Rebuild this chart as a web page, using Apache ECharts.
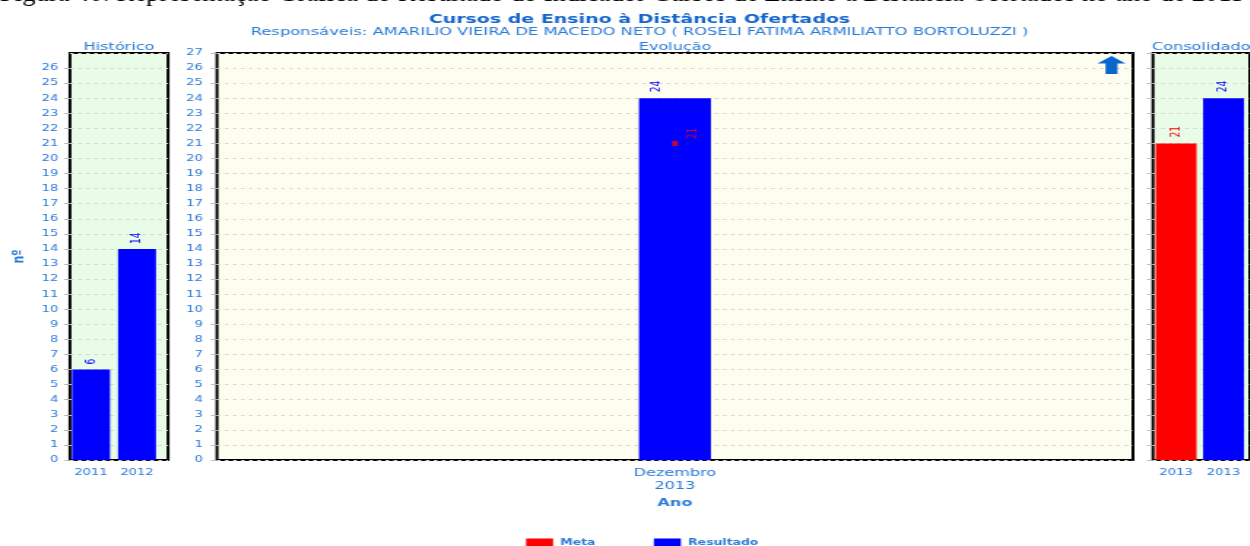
<!DOCTYPE html>
<html>
<head>
<meta charset="utf-8">
<script src="https://cdn.jsdelivr.net/npm/echarts@6/dist/echarts.min.js"></script>
<style>
  html, body { margin: 0; padding: 0; background: #ffffff; overflow: hidden; }
  #chart { height: 546px; transform-origin: 0 0; }
</style>
</head>
<body>
<div id="chart"></div>
<script>
// ---- data -------------------------------------------------------------
const histYears = ['2011', '2012'];
const histResult = [6, 14];

const evolPeriods = ['Dezembro\n2013'];
const evolResult = [24];
const evolMeta = [21];

const consYears = ['2013', '2013'];
const consMeta = [21, '-'];
const consResult = ['-', 24];

const yMax = 27;
const yStep = 1;

const CAPTION = 'Figura 40: Representação Gráfica do Resultado do Indicador Cursos de Ensino à Distância Ofertados no ano de 2013';

// ---- look -------------------------------------------------------------
// The figure is laid out on a narrower canvas and widened horizontally.
const STRETCH = 1.46;
const W = 1250 / STRETCH;
const H = 546;

const FONT = 'DejaVu Sans';
const TITLE_BLUE = '#1466cc';
const TEXT_BLUE = '#2a7bd8';
const META_RED = '#ff0000';
const RESULT_BLUE = '#0000ff';
const PANEL_GREEN = '#e8fce8';
const PANEL_IVORY = '#fefef0';
const GRID_DASH = '#d4d4d4';

const TOP = 53;
const BOTTOM = H - 460;

const histFrame = { left: 47.9, width: 67.2 };
const histBars = { left: 46.6, width: 63 };
const evolFrame = { left: 148.6, width: 627.4 };
const consFrame = { left: 789.7, width: 72 };
const consBars = { left: 789.3, width: 65 };

const el = document.getElementById('chart');
el.style.width = W + 'px';
el.style.transform = 'scaleX(' + STRETCH + ')';

const chart = echarts.init(el, null, { renderer: 'canvas' });

function frame(box, bg) {
  return {
    left: box.left, width: box.width, top: TOP, bottom: BOTTOM,
    show: true, backgroundColor: bg, borderColor: '#000000', borderWidth: 2
  };
}
function plain(box) {
  return { left: box.left, width: box.width, top: TOP, bottom: BOTTOM };
}

const dashed = { show: true, lineStyle: { color: GRID_DASH, type: [2.5, 3], width: 1 } };
const tick = { show: true, length: 4, lineStyle: { color: '#bbbbbb' } };
const yBase = { type: 'value', min: 0, max: yMax, interval: yStep };

// Value labels are turned 90° anticlockwise; their offset is given in the
// label's own (turned) frame: [along the text, across it].
function valueLabel(color, extra) {
  return Object.assign({
    show: true, position: 'top', distance: 6, rotate: 90,
    align: 'left', verticalAlign: 'middle',
    color: color, fontFamily: FONT, fontSize: 9
  }, extra || {});
}

const catLabel = { color: TEXT_BLUE, fontFamily: FONT, fontSize: 9, margin: 8 };

// up arrow in the corner of the evolution panel
const ax = evolFrame.left + evolFrame.width - 14.7;
const arrowPts = [
  [ax, 56], [ax + 9.6, 63.5], [ax + 4.1, 63.5], [ax + 4.1, 74],
  [ax - 4.1, 74], [ax - 4.1, 63.5], [ax - 9.6, 63.5]
];

const option = {
  animation: false,
  backgroundColor: '#ffffff',
  textStyle: { fontFamily: FONT },
  title: [
    {
      text: 'Cursos de Ensino à Distância Ofertados',
      subtext: 'Responsáveis: AMARILIO VIEIRA DE MACEDO NETO ( ROSELI FATIMA ARMILIATTO BORTOLUZZI )',
      left: 438, top: 13, textAlign: 'center', padding: 0, itemGap: 1,
      textStyle: { fontFamily: FONT, fontSize: 13, fontWeight: 'bold', color: TITLE_BLUE },
      subtextStyle: { fontFamily: FONT, fontSize: 11.2, color: TEXT_BLUE }
    },
    {
      text: 'Histórico', left: histFrame.left + histFrame.width / 2, top: 42,
      textAlign: 'center', padding: 0,
      textStyle: { fontFamily: FONT, fontSize: 11, fontWeight: 'normal', color: TEXT_BLUE }
    },
    {
      text: 'Evolução', left: evolFrame.left + evolFrame.width / 2, top: 42,
      textAlign: 'center', padding: 0,
      textStyle: { fontFamily: FONT, fontSize: 11, fontWeight: 'normal', color: TEXT_BLUE }
    },
    {
      text: 'Consolidado', left: consFrame.left - 0.7, top: 42,
      textAlign: 'left', padding: 0,
      textStyle: { fontFamily: FONT, fontSize: 11, fontWeight: 'normal', color: TEXT_BLUE }
    }
  ],
  legend: {
    data: ['Meta', 'Resultado'],
    left: 360.3, top: 538, padding: 0,
    icon: 'rect', itemWidth: 18.5, itemHeight: 8, itemGap: 40,
    selectedMode: false,
    textStyle: { fontFamily: FONT, fontSize: 8.5, fontWeight: 'bold', color: TEXT_BLUE }
  },
  grid: [
    frame(histFrame, PANEL_GREEN),
    plain(histBars),
    frame(evolFrame, PANEL_IVORY),
    frame(consFrame, PANEL_GREEN),
    plain(consBars)
  ],
  xAxis: [
    { gridIndex: 0, type: 'category', data: histYears, show: false },
    {
      gridIndex: 1, type: 'category', data: histYears,
      axisLine: { show: false }, axisTick: { show: false }, axisLabel: catLabel
    },
    {
      gridIndex: 2, type: 'category', data: evolPeriods,
      axisLine: { show: false }, axisTick: { show: false },
      axisLabel: { color: TEXT_BLUE, fontFamily: FONT, fontSize: 11, lineHeight: 13, margin: 7 },
      name: 'Ano', nameLocation: 'middle', nameGap: 32,
      nameTextStyle: { color: TEXT_BLUE, fontFamily: FONT, fontSize: 11, fontWeight: 'bold' }
    },
    { gridIndex: 3, type: 'category', data: consYears, show: false },
    {
      gridIndex: 4, type: 'category', data: consYears,
      axisLine: { show: false }, axisTick: { show: false }, axisLabel: catLabel
    }
  ],
  yAxis: [
    Object.assign({}, yBase, {
      gridIndex: 0,
      axisLine: { show: false }, axisTick: tick, splitLine: dashed,
      axisLabel: { showMaxLabel: false, color: TEXT_BLUE, fontFamily: FONT, fontSize: 9, margin: 8 },
      name: 'nº', nameLocation: 'middle', nameGap: 29,
      nameTextStyle: { color: TEXT_BLUE, fontFamily: FONT, fontSize: 11, fontWeight: 'bold' }
    }),
    Object.assign({}, yBase, { gridIndex: 1, show: false }),
    Object.assign({}, yBase, {
      gridIndex: 2,
      axisLine: { show: false }, axisTick: tick, splitLine: dashed,
      axisLabel: { color: TEXT_BLUE, fontFamily: FONT, fontSize: 9, margin: 9.6 }
    }),
    Object.assign({}, yBase, {
      gridIndex: 3,
      axisLine: { show: false }, axisTick: tick, splitLine: dashed,
      axisLabel: { show: false }
    }),
    Object.assign({}, yBase, { gridIndex: 4, show: false })
  ],
  series: [
    {
      name: 'Meta', type: 'bar', xAxisIndex: 4, yAxisIndex: 4,
      data: consMeta, barWidth: 28, barGap: '-100%',
      itemStyle: { color: META_RED }, label: valueLabel(META_RED)
    },
    {
      name: 'Resultado', type: 'bar', xAxisIndex: 4, yAxisIndex: 4,
      data: consResult, barWidth: 28, barGap: '-100%',
      itemStyle: { color: RESULT_BLUE }, label: valueLabel(RESULT_BLUE)
    },
    {
      name: 'Resultado', type: 'bar', xAxisIndex: 1, yAxisIndex: 1,
      data: histResult, barWidth: 26,
      itemStyle: { color: RESULT_BLUE }, label: valueLabel(RESULT_BLUE, { distance: 5 })
    },
    {
      name: 'Resultado', type: 'bar', xAxisIndex: 2, yAxisIndex: 2,
      data: evolResult, barWidth: 49.3,
      itemStyle: { color: RESULT_BLUE }, label: valueLabel(RESULT_BLUE, { offset: [0, -12.7] })
    },
    {
      name: 'Meta', type: 'scatter', xAxisIndex: 2, yAxisIndex: 2,
      data: evolMeta, symbol: 'rect', symbolSize: [4, 5],
      itemStyle: { color: META_RED },
      label: {
        show: true, position: 'inside', rotate: 90, align: 'center', verticalAlign: 'middle',
        offset: [10, 12.3], color: META_RED, fontFamily: FONT, fontSize: 9
      }
    }
  ],
  graphic: [
    {
      type: 'text', x: 0, y: -5.5, scaleX: 1.022 / STRETCH, silent: true, z: 10,
      style: { text: CAPTION, font: '26px "Liberation Serif"', fill: '#000000', verticalAlign: 'middle' }
    },
    {
      type: 'polygon', silent: true, z: 10,
      shape: { points: arrowPts },
      style: { fill: '#0a66cc' }
    }
  ]
};

chart.setOption(option);
</script>
</body>
</html>
